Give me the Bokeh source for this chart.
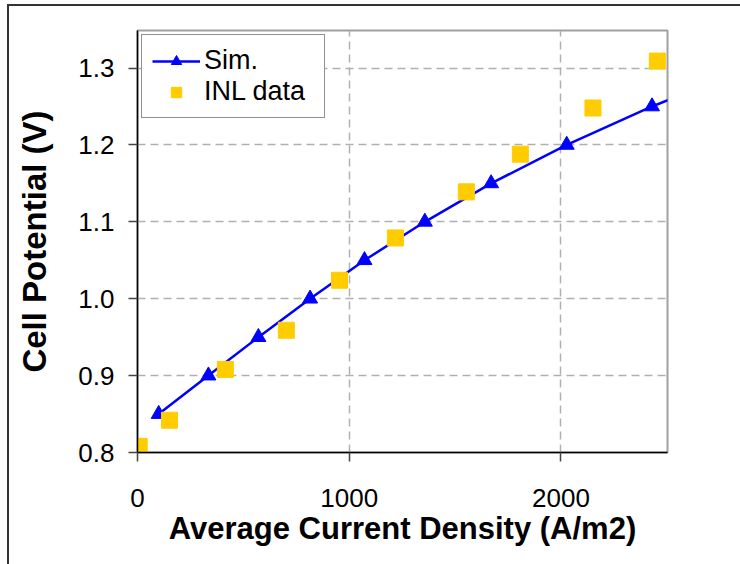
from bokeh.plotting import figure
from bokeh.models import (Range1d, FixedTicker, NumeralTickFormatter, Legend,
                          LegendItem)
from bokeh.embed import file_html
from bokeh.resources import INLINE

# Simulation (line with triangles)
sim_current = [100, 335, 571, 815, 1072, 1357, 1670, 2027, 2430]
sim_potential = [0.85, 0.90, 0.95, 1.00, 1.05, 1.10, 1.15, 1.20, 1.25]
# the simulated curve continues slightly past the last marker
sim_line_current = sim_current + [2540]
sim_line_potential = sim_potential + [1.262]

# INL experimental data (squares)
inl_current = [8, 151, 415, 703, 954, 1218, 1553, 1808, 2151, 2455]
inl_potential = [0.808, 0.842, 0.908, 0.959, 1.024, 1.079, 1.139, 1.188, 1.248, 1.309]

x_ticks = [0, 1000, 2000]
y_ticks = [0.8, 0.9, 1.0, 1.1, 1.2, 1.3]

FONT = "Liberation Sans"

p = figure(width=740, height=564, output_backend="svg", toolbar_location=None,
           x_range=Range1d(0, 2503), y_range=Range1d(0.8, 1.3488),
           min_border_left=137, min_border_right=73,
           min_border_top=30, min_border_bottom=112,
           background_fill_color="white", border_fill_color="white",
           border_fill_alpha=0)

# outer chart border (only its left and top edges fall inside the window)
p.styles = {
    "background": ("linear-gradient(#333333, #333333) 7px 4px / 2px 100% no-repeat, "
                   "linear-gradient(#333333, #333333) 7px 4px / 100% 2px no-repeat, "
                   "white"),
}

# frame
p.outline_line_color = "#a0a0a0"
p.outline_line_width = 2

# grids
for g in (p.xgrid, p.ygrid):
    g.grid_line_color = "#b0b0b0"
    g.grid_line_width = 1.5
    g.grid_line_dash = "8 5"

# axes
p.xaxis.ticker = FixedTicker(ticks=x_ticks)
p.yaxis.ticker = FixedTicker(ticks=y_ticks)
p.xaxis.formatter = NumeralTickFormatter(format="0")
p.yaxis.formatter = NumeralTickFormatter(format="0.0")
for ax in (p.xaxis, p.yaxis):
    ax.axis_line_color = "black"
    ax.axis_line_width = 1.5
    ax.major_tick_line_color = "#444444"
    ax.major_tick_line_width = 1.5
    ax.major_tick_in = 0
    ax.major_tick_out = 9
    ax.minor_tick_line_color = None
    ax.major_label_text_font = FONT
    ax.major_label_text_font_size = "26px"
    ax.major_label_text_color = "black"
    ax.axis_label_text_font = FONT
    ax.axis_label_text_font_style = "bold"
    ax.axis_label_text_color = "black"

p.xaxis.axis_label = "Average Current Density (A/m2)"
p.yaxis.axis_label = "Cell Potential (V)"
p.xaxis.axis_label_text_font_size = "31px"
p.yaxis.axis_label_text_font_size = "33px"
p.xaxis.major_label_standoff = 27
p.yaxis.major_label_standoff = 14
p.xaxis.axis_label_standoff = 1
p.yaxis.axis_label_standoff = 22

# data
sim_line = p.line(sim_line_current, sim_line_potential, line_color="#0000ff", line_width=2.5)
sim_pts = p.scatter(sim_current, sim_potential, marker="triangle", size=15,
                    fill_color="#0000ff", line_color="#0000ff")
inl_pts = p.scatter(inl_current, inl_potential, marker="square", size=16,
                    fill_color="#ffcc00", line_color="#ffcc00")

legend = Legend(items=[LegendItem(label="Sim.", renderers=[sim_line, sim_pts]),
                       LegendItem(label="INL data", renderers=[inl_pts])],
                location="top_left", margin=4, padding=10, spacing=0,
                glyph_width=48, glyph_height=26, label_height=26,
                label_width=110, label_standoff=4,
                label_text_font=FONT, label_text_font_size="27px",
                label_text_color="black",
                border_line_color="#222222", border_line_width=1.2,
                background_fill_color="white", background_fill_alpha=1)
p.add_layout(legend, "center")

open("out.html", "w").write(file_html(p, INLINE))
